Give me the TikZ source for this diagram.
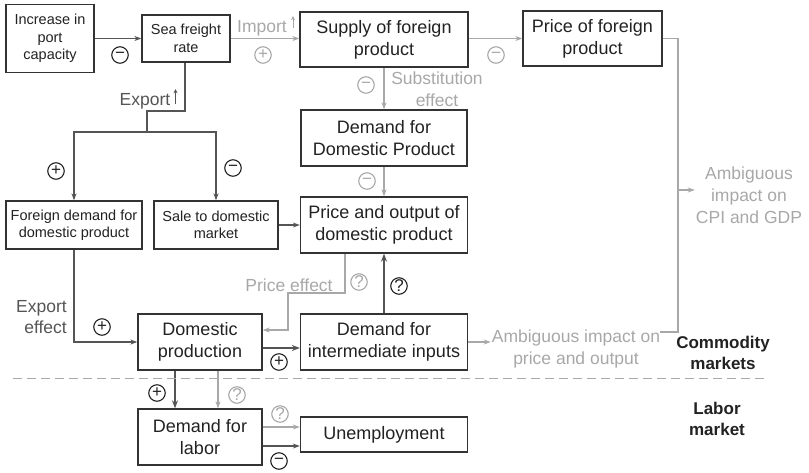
\documentclass[tikz,border=0pt]{standalone}
\usepackage{fontspec}
\setmainfont{Liberation Sans}
\usepackage{tikz}
\usetikzlibrary{arrows.meta,positioning,calc}
\definecolor{pcdark}{HTML}{555555}
\definecolor{pcgray}{HTML}{A8A8A8}
\definecolor{pcline}{HTML}{333333}
\definecolor{pctext}{HTML}{222222}
\tikzset{
  mainbox/.style={draw=pcline,line width=1.3pt,fill=white,align=center,inner sep=0pt,
                  text=pctext,font=\fontsize{18}{22}\selectfont},
  smallbox/.style={draw=pcline,line width=1.3pt,fill=white,align=center,inner sep=0pt,
                   text=pctext,font=\fontsize{14.5}{17.5}\selectfont},
  graytext/.style={text=pcgray,align=center,inner sep=1pt,font=\fontsize{17.5}{22}\selectfont},
  darktext/.style={text=pcdark,align=center,inner sep=1pt,font=\fontsize{17.5}{21}\selectfont},
  marketlabel/.style={text=pctext,align=center,font=\fontsize{17}{21}\selectfont\bfseries},
  flow/.style={-{Stealth[length=7pt,width=5pt]},line width=1.1pt,draw=pcdark},
  thickflow/.style={-{Stealth[length=8pt,width=6pt]},line width=2pt,draw=pcdark},
  grayflow/.style={-{Stealth[length=7pt,width=5pt]},line width=1.1pt,draw=pcgray},
  darkline/.style={line width=1.1pt,draw=pcdark},
  grayline/.style={line width=1.1pt,draw=pcgray},
  upflow/.style={-{Stealth[length=4pt,width=4pt]},line width=0.9pt},
  sign/.style={circle,draw,line width=1.1pt,minimum size=16.5pt,inner sep=0pt,
               font=\fontsize{17}{17}\selectfont},
  darksign/.style={sign,draw=pctext,text=pctext},
  graysign/.style={sign,draw=pcgray,text=pcgray}
}
\begin{document}
\begin{tikzpicture}[x=1pt,y=-1pt]
  \useasboundingbox (0,0) rectangle (809,472);

  % boxes
  \node[smallbox,minimum width=88pt,minimum height=68pt] (port) at (50,38.5) {Increase in\\port\\capacity};
  \node[smallbox,minimum width=88pt,minimum height=47pt] (sea) at (186,38.5) {Sea freight\\rate};
  \node[mainbox,minimum width=168pt,minimum height=55pt] (supply) at (384,39.5) {Supply of foreign\\product};
  \node[mainbox,minimum width=139pt,minimum height=55pt] (pricef) at (592.5,38.5) {Price of foreign\\product};
  \node[mainbox,minimum width=166pt,minimum height=56pt] (demdom) at (384,138) {Demand for\\Domestic Product};
  \node[mainbox,minimum width=167pt,minimum height=56pt] (priceout) at (384,225) {Price and output of\\domestic product};
  \node[smallbox,minimum width=136pt,minimum height=48pt] (foreign) at (74,225) {Foreign demand for\\domestic product};
  \node[smallbox,minimum width=124pt,minimum height=48pt] (sale) at (216,225) {Sale to domestic\\market};
  \node[mainbox,minimum width=124pt,minimum height=56pt] (domprod) at (200,342) {Domestic\\production};
  \node[mainbox,minimum width=167pt,minimum height=56pt] (interm) at (384,342) {Demand for\\intermediate inputs};
  \node[mainbox,minimum width=124pt,minimum height=56pt] (labor) at (200,437) {Demand for\\labor};
  \node[mainbox,minimum width=167pt,minimum height=35pt] (unemp) at (384,434.5) {Unemployment};

  % free texts
  \node[graytext] (cpi) at (749,195) {Ambiguous\\impact on\\CPI and GDP};
  \node[graytext] (ambig) at (576,348.5) {Ambiguous impact on\\price and output};
  \node[graytext] (subst) at (437,89) {Substitution\\effect};
  \node[graytext] (peff) at (289,285) {Price effect};
  \node[graytext] (imp) at (262,28) {Import};
  \node[darktext] (exp) at (145,101) {Export};
  \node[darktext,anchor=east,align=right] (expeff) at (68,317.5) {Export\\effect};
  \node[marketlabel] (commod) at (723,352.5) {Commodity\\markets};
  \node[marketlabel] (labmkt) at (717,419) {Labor\\market};

  % signs
  \node[darksign] (s1) at (120,55) {−};
  \node[graysign] (s2) at (263,55) {+};
  \node[graysign] (s3) at (496,55) {−};
  \node[graysign] (s4) at (366,85) {−};
  \node[graysign] (s5) at (367,181) {−};
  \node[darksign] (s6) at (56,171) {+};
  \node[darksign] (s7) at (233,168) {−};
  \node[darksign] (s8) at (102,327) {+};
  \node[darksign] (s9) at (279,362) {+};
  \node[darksign] (s10) at (399,286) {?};
  \node[graysign] (s11) at (359,282) {?};
  \node[darksign] (s12) at (157,393) {+};
  \node[graysign] (s13) at (237,395) {?};
  \node[graysign] (s14) at (280,414) {?};
  \node[darksign] (s15) at (279,461) {−};

  \coordinate (split) at (147,132);
  \coordinate (junc) at (678,190);
  \coordinate (ambtail) at (660,332);

  % connectors
  \draw[flow] (port) -- (sea);
  \draw[grayflow] (sea.east) -- (sea.east -| supply.west);
  \draw[grayflow] (supply.east |- pricef.west) -- (pricef.west);
  \draw[grayline] (pricef.east) -| (junc);
  \draw[grayline] (ambtail) -| (junc);
  \draw[grayflow] (junc) -- (junc -| cpi.west);
  \draw[grayflow] (supply) -- (demdom);
  \draw[grayflow] (demdom) -- (priceout);
  \draw[darkline] ([xshift=-1pt]sea.south) |- (split |- 0,111) -- (split);
  \draw[flow] (split) -| (foreign);
  \draw[flow] (split) -| (sale);
  \draw[flow] (sale) -- (priceout);
  \draw[flow] (foreign) |- (domprod);
  \draw[thickflow] ([yshift=-6pt]domprod.east) -- ([yshift=-6pt]interm.west);
  \draw[thickflow] (interm) -- (priceout);
  \draw[grayflow] ([xshift=-39pt]priceout.south) |- (288,293) |- ([yshift=12pt]domprod.east);
  \draw[grayflow] (interm.east) -- (interm.east -| ambig.west);
  \draw[thickflow] ([xshift=-25pt]domprod.south) -- ([xshift=-25pt]labor.north);
  \draw[grayflow] ([xshift=18pt]domprod.south) -- ([xshift=18pt]labor.north);
  \draw[grayflow] ([yshift=10pt]labor.east) -- ([yshift=10pt]labor.east -| unemp.west);
  \draw[flow] ([yshift=-9pt]labor.east) -- ([yshift=-9pt]labor.east -| unemp.west);

  % small up arrows
  \draw[upflow,draw=pcgray] ([xshift=5pt,yshift=4pt]imp.base east) -- ++(0,-12);
  \draw[upflow,draw=pcdark] ([xshift=4pt,yshift=1pt]exp.base east) -- ++(0,-15);

  % market divider
  \draw[pcgray,line width=1pt,dash pattern=on 9pt off 5pt] (13,378) -- (767,378);
\end{tikzpicture}
\end{document}
